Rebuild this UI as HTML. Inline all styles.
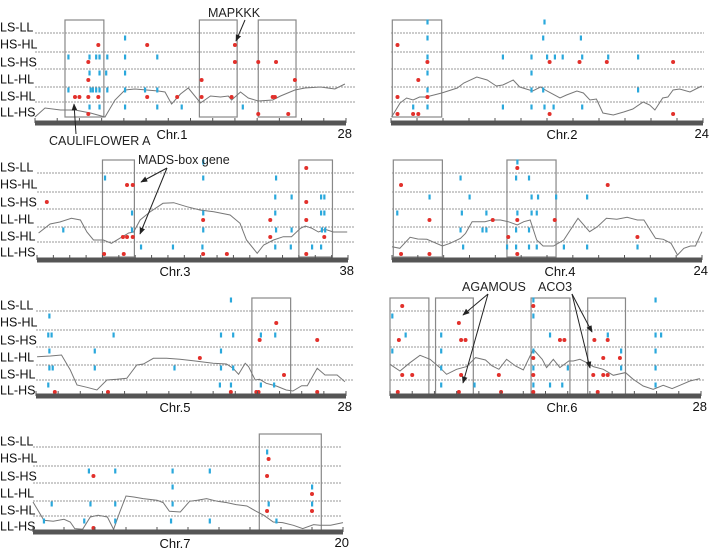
<!DOCTYPE html>
<html><head><meta charset="utf-8"><style>
body{margin:0;background:#fff;}
svg{display:block;font-family:"Liberation Sans",Arial,sans-serif;}
</style></head><body>
<svg id="fig" width="709" height="549" viewBox="0 0 709 549" xmlns="http://www.w3.org/2000/svg">
<defs><marker id="ah" viewBox="0 0 10 10" refX="9" refY="5" markerWidth="7" markerHeight="7" orient="auto-start-reverse"><path d="M0,1 L10,5 L0,9 z" fill="#222"/></marker></defs>
<g id="panels"></g>
<g id="annot" font-size="12.5" fill="#222">
<text x="208" y="17">MAPKKK</text>
<line x1="245" y1="20" x2="236" y2="41" stroke="#222" marker-end="url(#ah)"/>
<text x="49" y="145">CAULIFLOWER A</text>
<line x1="76" y1="134" x2="74" y2="104" stroke="#222" marker-end="url(#ah)"/>
<text x="138" y="164">MADS-box gene</text>
<line x1="167" y1="168" x2="141" y2="182" stroke="#222" marker-end="url(#ah)"/>
<line x1="167" y1="168" x2="140" y2="234" stroke="#222" marker-end="url(#ah)"/>
<text x="462" y="291">AGAMOUS</text>
<line x1="488" y1="294" x2="463" y2="315" stroke="#222" marker-end="url(#ah)"/>
<line x1="488" y1="294" x2="463" y2="383" stroke="#222" marker-end="url(#ah)"/>
<text x="538" y="291">ACO3</text>
<line x1="572" y1="294" x2="592" y2="332" stroke="#222" marker-end="url(#ah)"/>
<line x1="572" y1="294" x2="590" y2="368" stroke="#222" marker-end="url(#ah)"/>
</g>
</svg>
<script>
const rowLabels = ["LS-LL","HS-HL","LS-HS","LL-HL","LS-HL","LL-HS"];
const chrNames = ["Chr.1","Chr.2","Chr.3","Chr.4","Chr.5","Chr.6","Chr.7"];
const chrLengths = [28,24,38,24,28,28,20];

const chr1Blue = [[8.1,1],[3.0,2],[4.9,2],[5.5,2],[5.8,2],[6.5,2],[8.1,2],[11.0,2],[4.9,3],[5.8,3],[6.4,3],[8.1,3],[3.0,4],[5.0,4],[5.2,4],[5.5,4],[5.8,4],[6.5,4],[8.1,4],[9.9,4],[11.0,4],[4.9,5],[5.8,5],[8.1,5],[11.0,5],[13.2,5],[18.7,5]];
const chr1Red = [[5.7,1],[10.1,1],[18.0,1],[4.8,2],[18.0,2],[20.1,2],[21.7,2],[4.8,3],[15.0,3],[23.4,3],[3.6,4],[4.0,4],[4.8,4],[5.7,4],[10.1,4],[12.8,4],[15.0,4],[17.7,4],[21.4,4],[21.6,4],[4.8,5],[20.1,5],[22.8,5]];
const chr1Boxes = [[2.7,6.2],[14.8,18.2],[20.1,23.5]];
const chr1Curve = [[0,0],[0.9,9],[2.3,7],[3.6,7],[5,4],[6.3,0],[7.2,17],[8.1,27],[9,28],[11.1,26],[11.7,25],[12.3,13],[13.1,23],[13.8,29],[14.9,14],[15.8,21],[16.7,20],[17.4,21],[17.7,17],[18.5,25],[19.2,19],[20.1,16],[21.4,17],[22.1,21],[23.4,27],[24.3,29],[25.7,30],[27,28],[27.9,33]];

const chr2Blue = [[2.8,0],[11.8,0],[2.8,1],[11.7,1],[14.6,1],[2.8,2],[8.6,2],[10.8,2],[12,2],[12.6,2],[13.2,2],[14.7,2],[16.7,2],[19,2],[2.8,3],[10.8,3],[2.8,4],[10.8,4],[11.7,4],[19,4],[1.7,5],[2.8,5],[8.6,5],[10.8,5],[11.8,5],[12.5,5],[14.7,5]];
const chr2Red = [[0.5,1],[2.8,2],[12.2,2],[14.5,2],[16.6,2],[21.7,2],[2.1,3],[0.5,4],[2.8,4],[0.5,5],[1.7,5],[2.1,5],[12.2,5],[21.7,5]];
const chr2Boxes = [[0.1,3.9]];
const chr2Curve = [[0.05,0],[0.7,14],[1.2,19],[1.7,17],[2.2,20],[2.7,20],[3.9,24],[5.1,29],[5.6,34],[6.6,40],[7.4,37],[8.1,31],[8.6,32],[9.4,37],[9.9,30],[10.4,28],[10.9,26],[11.5,30],[12,26],[13,19],[13.5,22],[14.3,26],[14.8,24],[15.3,17],[15.8,18],[16.3,4],[17.1,2],[17.9,5],[18.6,8],[19.4,15],[19.9,12],[20.3,7],[20.9,19],[21.3,20],[21.7,27],[22.2,28],[23,25],[23.9,31]];

const chr3Blue = [[20.3,0],[8.3,1],[20.3,1],[29.2,1],[29.1,2],[31.1,2],[34.7,2],[35.1,2],[11.6,3],[20.3,3],[29.1,3],[34.7,3],[35.1,3],[3.2,4],[11.6,4],[20.3,4],[29.2,4],[31.1,4],[34.8,4],[35.2,4],[12.7,5],[16.6,5],[20.2,5],[29.1,5],[31,5],[33.6,5],[34.7,5]];
const chr3Red = [[32.9,0],[11,1],[11.7,1],[1.2,2],[32.9,2],[20.3,3],[28.5,3],[32.9,3],[10.5,4],[11,4],[11.7,4],[28.5,4],[35.1,4],[8.2,5],[10.6,5],[20.3,5],[23.2,5],[32.9,5]];
const chr3Boxes = [[8,11.9],[32,36.1]];
const chr3Curve = [[0.2,24],[1.6,33],[2.8,35],[4.2,38.7],[5.3,37],[6.1,25],[6.9,17],[8.1,17],[9.1,13.7],[10.1,18.7],[11.2,24],[11.8,25],[12.6,37],[13.8,45],[15.4,53.7],[16.7,54.3],[18.3,50.3],[19.9,47],[21.6,45.3],[23.6,42],[24.8,33.7],[25.6,17],[26.9,3.7],[27.7,12],[28.9,17],[30.1,20.3],[31.1,20.3],[32.2,28.7],[32.8,31],[33.6,28.7],[34.4,25],[35.2,27.7],[36.2,25],[37.9,25]];

const chr4Blue = [[9.7,0],[5.3,1],[9.6,1],[10.6,1],[2.9,2],[6,2],[10.8,2],[11.3,2],[12.7,2],[15.1,2],[0.4,3],[5.4,3],[7.3,3],[9.7,3],[10.8,3],[11.2,3],[5.3,4],[7,4],[7.3,4],[9.6,4],[10.6,4],[5.5,5],[8.9,5],[9.6,5],[10.6,5],[11.2,5],[13.3,5],[15.1,5],[19,5]];
const chr4Red = [[9.7,0],[0.7,1],[16.7,1],[2.9,3],[7.8,3],[9.7,3],[12.6,3],[9,4],[19,4],[0.7,5],[2.9,5],[9.7,5]];
const chr4Boxes = [[0.1,3.9],[8.9,12.7]];
const chr4Curve = [[0,10.3],[0.6,8.7],[1.4,19.7],[2,18],[2.7,17.7],[3.9,11],[4.5,13.7],[5.3,18.7],[5.7,23.7],[6.2,35.3],[7.2,35.3],[7.7,37],[8.4,37],[9,35.3],[9.7,32],[10.2,35.3],[10.7,37],[11.2,17],[11.7,11],[12.5,11],[13.3,17],[13.8,27],[14.4,38.7],[15.3,25.3],[15.9,30.3],[16.6,38.7],[17.4,37.7],[18.2,39.7],[19,37],[19.5,37],[20.4,18.7],[21,17.7],[21.6,13.7],[22.1,2],[22.6,8.7],[23.1,11],[23.5,11],[24,25.3]];

const chr5Blue = [[17.6,0],[1.2,1],[1.1,2],[1.4,2],[7,2],[16.7,2],[17.8,2],[20.3,2],[21.6,2],[1.2,3],[5.3,3],[16.7,3],[1.2,4],[1.5,4],[5.3,4],[12.5,4],[16.7,4],[17.8,4],[1.1,5],[16.6,5],[17.6,5],[20.3,5],[21.5,5]];
const chr5Red = [[21.7,1],[20.2,2],[25.4,2],[14.8,3],[22.4,4],[1.7,5],[6.5,5],[17.6,5],[19.9,5],[20.1,5],[25.4,5]];
const chr5Boxes = [[19.5,23]];
const chr5Curve = [[0.1,38.3],[1.3,39],[2.3,40],[3.1,25],[3.7,10],[4.6,7.7],[5.5,5],[6.4,15],[7.3,15.7],[8.2,16.7],[9.1,30],[9.7,31],[10.6,36.7],[11.8,36.7],[13,35.7],[14.2,34.3],[16,31.7],[17.2,31],[17.8,26.7],[18.3,20.7],[18.9,31.7],[19.2,28.3],[19.8,15],[20.2,15.7],[20.8,11.7],[21.7,9],[22.6,5],[23.2,4],[24,9.3],[24.5,9.3],[25.4,26.7],[26.1,20],[27.2,20],[27.9,13.3]];

const chr6Blue = [[12.9,0],[23.9,0],[0.2,1],[12.9,1],[1.4,2],[4.6,2],[14.4,2],[19.6,2],[23.9,2],[24.4,2],[0.2,3],[4.6,3],[12.9,3],[20.8,3],[23.9,3],[4.6,4],[12.9,4],[16,4],[20.8,4],[23.9,4],[4.6,5],[7.6,5],[12.9,5],[14.4,5],[15.5,5],[23.9,5]];
const chr6Red = [[1.1,0],[12.9,0],[6.2,1],[0.8,2],[6.4,2],[6.8,2],[15.3,2],[15.7,2],[18.4,2],[19.6,2],[12.9,3],[19.2,3],[20.7,3],[1.1,4],[2,4],[6.4,4],[9.8,4],[12.9,4],[18.3,4],[19.2,4],[19.6,4],[0.7,5],[6.2,5],[10,5],[12.9,5],[18.7,5]];
const chr6Boxes = [[0,3.5],[4.1,7.5],[12.7,16.2],[17.8,21.2]];
const chr6Curve = [[0,30.7],[0.9,24],[1.8,32.3],[2.7,39.7],[3.6,35.7],[4.5,27.3],[5.1,20.7],[6,25.7],[6.9,28.4],[7.7,37.4],[8.6,35],[9.2,29],[9.8,25.7],[10.5,35.7],[11.3,29],[12,25],[12.9,45.7],[13.7,35.7],[14.1,27.4],[14.7,35.7],[15.3,27.4],[16.1,34],[16.5,34],[17.1,35.7],[17.7,32.4],[18.3,28.4],[19.2,25.7],[20.1,19.7],[21.2,22.4],[21.9,15.7],[22.8,9],[23.7,5.7],[24.6,9.7],[25.4,6.4],[26.1,9.7],[27,14],[27.9,16.4]];

const chr7Blue = [[15.1,1],[3.6,2],[5.3,2],[9,2],[11.4,2],[9,3],[18,3],[1.2,4],[3.7,4],[5.3,4],[9,4],[15.2,4],[18,4],[0.7,5],[3.3,5],[5.3,5],[8.9,5],[11.4,5],[15.7,5]];
const chr7Red = [[15.2,1],[3.9,2],[15.1,2],[18,3],[15.1,4],[18,4],[3.9,5]];
const chr7Boxes = [[14.6,18.6]];
const chr7Curve = [[0,29],[0.7,10.7],[1.3,9.7],[2,11.7],[2.4,9],[2.7,2.4],[3.2,1.7],[3.7,14],[4.2,15.7],[4.8,14],[5.2,1.7],[5.6,19],[6,35],[6.5,34],[7.1,32.4],[8,30.7],[8.4,28.4],[8.8,19.7],[9.5,19],[10.1,29.7],[10.6,30.7],[11.2,32.4],[11.9,29.7],[12.5,28.4],[13.1,26.4],[13.8,25],[14.4,19.7],[14.9,15.7],[15.5,9],[16.1,8.4],[16.8,5.7],[17.4,2.4],[18.1,6.4],[18.5,5.7],[19.2,5.7],[20,8.4]];

const blueSets=[chr1Blue,chr2Blue,chr3Blue,chr4Blue,chr5Blue,chr6Blue,chr7Blue];
const redSets=[chr1Red,chr2Red,chr3Red,chr4Red,chr5Red,chr6Red,chr7Red];
const boxSets=[chr1Boxes,chr2Boxes,chr3Boxes,chr4Boxes,chr5Boxes,chr6Boxes,chr7Boxes];
const curveSets=[chr1Curve,chr2Curve,chr3Curve,chr4Curve,chr5Curve,chr6Curve,chr7Curve];

// layout (pixels)
const geo=[
 {x0:35,x1:346,top:33,axis:123,lineEnd:355,cx:172,labels:true},
 {x0:391,x1:703,top:33,axis:123,lineEnd:704,cx:562,labels:false},
 {x0:37,x1:348,top:173,axis:260,lineEnd:355,cx:175,labels:true},
 {x0:392,x1:702,top:173,axis:260,lineEnd:704,cx:560,labels:false},
 {x0:36,x1:346,top:311,axis:396,lineEnd:353,cx:175,labels:true},
 {x0:390,x1:701,top:311,axis:396,lineEnd:704,cx:562,labels:false},
 {x0:33,x1:343,top:447,axis:532,lineEnd:342,cx:175,labels:true}];
const lineOff=[0,19,36,54,69];
const blueOff=[-11,5,24,40,57,74];
const redOff=[-5,12,29,47,64,81];
const labelOff=[-6,11,29,46,63,79];
const NS="http://www.w3.org/2000/svg";
const root=document.getElementById('panels');
function mk(tag,attrs,parent){const e=document.createElementNS(NS,tag);for(const k in attrs)e.setAttribute(k,attrs[k]);parent.appendChild(e);return e;}

geo.forEach((g,i)=>{
  const L=chrLengths[i];
  const xs=v=>g.x0+(v/L)*(g.x1-g.x0);
  const ys=v=>g.top+84-v;
  const grp=mk('g',{},root);
  
  
  if(g.labels){rowLabels.forEach((t,r)=>{const tx=mk('text',{x:0,y:g.top+labelOff[r]+4.5,'font-size':12.5,fill:'#111'},grp);tx.textContent=t;
    
    });}
  lineOff.forEach(o=>{const ln=mk('line',{x1:g.x0,x2:g.lineEnd,y1:g.top+o,y2:g.top+o,stroke:'#999','stroke-width':0.9,'stroke-dasharray':'2,1'},grp);
    
    });
  boxSets[i].forEach(b=>{const r=mk('rect',{x:xs(b[0]),y:g.top-13,width:xs(b[1])-xs(b[0]),height:97,fill:'none',stroke:'#888','stroke-width':1.2},grp);
    
    });
  const d=curveSets[i].map((p,k)=>(k?'L':'M')+xs(p[0]).toFixed(1)+','+ys(p[1]).toFixed(1)).join(' ');
  const pth=mk('path',{d:d,fill:'none',stroke:'#777','stroke-width':1},grp);
  
  
  blueSets[i].forEach(m=>{const r=mk('rect',{x:xs(m[0])-1,y:g.top+blueOff[m[1]]-2.5,width:2.2,height:5,fill:'#2aa8dc'},grp);
    
    });
  redSets[i].forEach(m=>{const c=mk('circle',{cx:xs(m[0]),cy:g.top+redOff[m[1]],r:2,fill:'#e2302b'},grp);
    
    });
  const ax=mk('rect',{x:g.x0,y:g.axis-2.5,width:g.x1-g.x0,height:5,fill:'#555'},grp);
  
  
  for(let t=0;t<=L;t+=2){const tk=mk('line',{x1:xs(t),x2:xs(t),y1:g.axis-5,y2:g.axis,stroke:'#555','stroke-width':1},grp);
    
    }
  const cl=mk('text',{x:g.cx,y:g.axis+16,'font-size':13,'text-anchor':'middle',fill:'#111'},grp);cl.textContent=chrNames[i];
  
  
  const ll=mk('text',{x:g.x1+6,y:g.axis+15,'font-size':13,'text-anchor':'end',fill:'#111'},grp);ll.textContent=String(L);
  
  
});
</script>
</body></html>
